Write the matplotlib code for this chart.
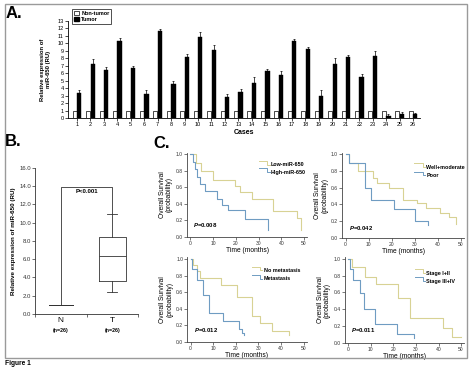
"""
Figure 1 rebuild: miR-650 expression (A, B) and survival curves (C).
Writes out.png at 474x371.
"""
import numpy as np
import matplotlib
matplotlib.use("Agg")
import matplotlib.pyplot as plt
from matplotlib.patches import Patch, Rectangle
from matplotlib.transforms import blended_transform_factory

plt.rcParams["font.family"] = ["Liberation Sans", "DejaVu Sans"]
plt.rcParams["mathtext.fontset"] = "custom"
plt.rcParams["mathtext.bfit"] = "Liberation Sans:bold:italic"

W, H = 474, 371

# --- A: per-case relative expression (RU)
cases = list(range(1, 27))
nontumor_expr = [1.0] * 26
tumor_expr = [3.4, 7.2, 6.5, 10.3, 6.7, 3.2, 11.6, 4.6, 8.2, 10.9, 9.1, 2.8, 3.5,
              4.75, 6.3, 5.7, 10.35, 9.25, 2.9, 7.2, 8.15, 5.55, 8.3, 0.3, 0.6, 0.5]
tumor_err = [0.4, 0.7, 0.3, 0.45, 0.3, 0.5, 0.35, 0.4, 0.4, 0.6, 0.7, 0.35, 0.4,
             0.8, 0.3, 0.6, 0.25, 0.3, 0.8, 0.8, 0.35, 0.4, 0.7, 0.2, 0.25, 0.2]

# --- B: box summary, N vs T
box_labels = ["N", "T"]
box_counts = ["(n=26)", "(n=26)"]
normal_box = dict(med=1.0, q1=1.0, q3=1.0, whislo=1.0, whishi=1.0)
tumor_box = dict(med=6.3, q1=3.6, q3=8.45, whislo=2.45, whishi=10.9)
bracket_level = 13.9
box_p = "P<0.001"

# --- C: Kaplan-Meier steps (months, survival probability)
low_t = [0, 2.5, 4.5, 10, 19.5, 22, 27, 36.5, 47, 48.5]
low_s = [1.0, 0.9, 0.8, 0.69, 0.62, 0.54, 0.46, 0.31, 0.23, 0.08]
high_t = [0, 1, 2, 3, 4, 6.5, 11.5, 14, 16.5, 24, 34]
high_s = [1.0, 0.91, 0.82, 0.73, 0.64, 0.56, 0.46, 0.39, 0.33, 0.22, 0.08]

wm_t = [0, 1.5, 5.5, 12, 13.5, 19, 25, 31, 35, 41, 45, 48]
wm_s = [1.0, 0.9, 0.8, 0.72, 0.65, 0.6, 0.45, 0.41, 0.35, 0.3, 0.25, 0.17]
poor_t = [0, 1.5, 8.5, 11, 21, 30, 35.5]
poor_s = [1.0, 0.9, 0.6, 0.45, 0.34, 0.2, 0.15]

nomet_t = [0, 1.2, 2.6, 4, 13.6, 20.7, 27, 30.5, 36, 43.7]
nomet_s = [1.0, 0.93, 0.85, 0.77, 0.68, 0.54, 0.31, 0.22, 0.13, 0.08]
met_t = [0, 0.7, 3, 5.3, 8, 14.4, 21.4, 22.9, 23.6]
met_s = [1.0, 0.88, 0.74, 0.57, 0.35, 0.25, 0.15, 0.11, 0.08]

early_t = [0, 1.8, 7.4, 12.5, 22, 27.2, 42, 46, 50]
early_s = [1.0, 0.9, 0.78, 0.7, 0.53, 0.3, 0.17, 0.07, 0.07]
late_t = [0, 0.7, 2.2, 5.1, 6.9, 11.8, 21.8, 29]
late_s = [1.0, 0.88, 0.75, 0.59, 0.4, 0.22, 0.1, 0.06]

km_labels = [("Low-miR-650", "High-miR-650"), ("Well+moderate", "Poor"),
             ("No metastasis", "Metastasis"), ("Stage I+II", "Stage III+IV")]
km_p = ["0.008", "0.042", "0.012", "0.011"]

YEL = "#d8d294"
BLU = "#6f9cc2"
AX_C = "#444444"


def rect(l, t, r, b):
    # pixel box -> figure fraction
    return [l / W, 1 - b / H, (r - l) / W, (b - t) / H]


def plain_axes(ax, color="black"):
    for s in ("top", "right"):
        ax.spines[s].set_visible(False)
    for s in ("left", "bottom"):
        ax.spines[s].set_linewidth(0.6)
        ax.spines[s].set_color(color)
    ax.tick_params(direction="out", length=2, width=0.5, pad=1, colors=color)


def step_key(ax, x0, y0, label, color):
    ax.plot([x0, x0 + 0.07, x0 + 0.07, x0 + 0.09], [y0, y0, y0 - 0.045, y0 - 0.045],
            transform=ax.transAxes, color=color, lw=0.7, clip_on=False)
    ax.text(x0 + 0.1, y0 - 0.045, label, transform=ax.transAxes, fontsize=3.9,
            fontweight="bold", va="center")


fig = plt.figure(figsize=(W / 100, H / 100), dpi=100)
fig.patches.append(Rectangle((5 / W, 1 - 358 / H), 462 / W, 354 / H, transform=fig.transFigure,
                             fill=False, edgecolor="#9a9a9a", lw=1.0))

# ---------------- A
ax = fig.add_axes(rect(68, 21, 420, 118))
x = np.array(cases)
ax.bar(x - 0.17, nontumor_expr, 0.3, color="white", edgecolor="black", lw=0.5)
ax.bar(x + 0.17, tumor_expr, 0.32, color="black", edgecolor="black", lw=0.3,
       yerr=[np.zeros(len(cases)), tumor_err],
       error_kw=dict(elinewidth=0.5, capsize=1.0, capthick=0.5, ecolor="black"))
ax.set_xlim(0.33, 26.52)
ax.set_ylim(0, 13)
ax.set_xticks(cases)
ax.set_yticks(range(0, 14))
plain_axes(ax)
ax.tick_params(labelsize=4)
ax.set_xlabel("Cases", fontsize=5, fontweight="bold", labelpad=1)
ax.set_ylabel("Relative expression of\nmiR-650 (RU)", fontsize=4.2, fontweight="bold",
              labelpad=5, linespacing=1.1)
leg = ax.legend(handles=[Patch(facecolor="white", edgecolor="black", lw=0.5, label="Non-tumor"),
                         Patch(facecolor="black", edgecolor="black", label="Tumor")],
                loc="upper left", bbox_to_anchor=(0.011, 1.12), fancybox=False,
                edgecolor="black", prop=dict(size=4, weight="bold"), borderpad=0.3,
                handlelength=1.0, handleheight=0.8, labelspacing=0.15, handletextpad=0.4,
                borderaxespad=0)
leg.get_frame().set_linewidth(0.6)

# ---------------- B
ax = fig.add_axes(rect(35, 167.7, 138, 314))
ax.bxp([normal_box, tumor_box], positions=[0.5, 1.5], widths=[0.47, 0.52],
       showfliers=False, capwidths=[0.47, 0.2],
       boxprops=dict(color="#333333", lw=0.6), whiskerprops=dict(color="#333333", lw=0.6),
       capprops=dict(color="#333333", lw=0.6), medianprops=dict(color="#333333", lw=0.6))
ax.plot([0.5, 0.5, 1.5, 1.5],
        [normal_box["whishi"], bracket_level, bracket_level, tumor_box["whishi"]],
        color="#333333", lw=0.6)
ax.text(1.0, bracket_level - 0.45, box_p, ha="center", va="center", fontsize=4.3,
        fontweight="bold")
ax.set_xlim(0, 2)
ax.set_ylim(0, 16)
ax.set_yticks(np.arange(0, 17, 2))
ax.set_yticklabels([f"{v:.1f}" for v in np.arange(0, 17, 2)])
ax.set_xticks([0, 1, 2])
ax.set_xticklabels([])
ax.set_xticks([0.5, 1.5], box_labels, minor=True)
plain_axes(ax, "#333333")
ax.tick_params(labelsize=4.3)
ax.tick_params(axis="x", which="minor", length=0, labelsize=6, pad=2)
tr = blended_transform_factory(ax.transData, ax.transAxes)
for pos, cnt in zip([0.5, 1.5], box_counts):
    ax.text(pos, -0.116, cnt, transform=tr, ha="center", va="center", fontsize=3.8,
            fontweight="bold")
ax.set_ylabel("Relative expression of miR-650 (RU)", fontsize=4.5, fontweight="bold",
              labelpad=2)

# ---------------- C
km_boxes = [rect(187, 152.6, 307, 237), rect(342.2, 152.6, 464, 237.7),
            rect(187.3, 257.3, 306.5, 341.7), rect(344.9, 257.3, 464, 342.7)]
km_curves = [(low_t, low_s, high_t, high_s), (wm_t, wm_s, poor_t, poor_s),
             (nomet_t, nomet_s, met_t, met_s), (early_t, early_s, late_t, late_s)]
key_pos = [(0.60, 0.90, 0.814), (0.59, 0.874, 0.776), (0.54, 0.889, 0.79), (0.585, 0.86, 0.766)]
p_pos = [(0.05, 0.14), (0.056, 0.114), (0.056, 0.139), (0.051, 0.149)]

for box, (t1, s1, t2, s2), labs, kp, pp, pv in zip(km_boxes, km_curves, km_labels,
                                                    key_pos, p_pos, km_p):
    ax = fig.add_axes(box)
    ax.step(t1, s1, where="post", color=YEL, lw=0.8)
    ax.step(t2, s2, where="post", color=BLU, lw=0.8)
    ax.set_xlim(-1.5, 51.3)
    ax.set_ylim(0, 1.02)
    ax.set_xticks(range(0, 51, 10))
    ax.set_yticks(np.arange(0, 1.01, 0.2))
    ax.set_yticklabels([f"{v:.1f}" for v in np.arange(0, 1.01, 0.2)])
    plain_axes(ax, AX_C)
    ax.tick_params(labelsize=3.6, labelcolor="#333333")
    ax.set_xlabel("Time (months)", fontsize=4.8, labelpad=0.5)
    ax.set_ylabel("Overall Survival\n(probability)", fontsize=4.8, labelpad=2,
                  linespacing=1.0)
    step_key(ax, kp[0], kp[1], labs[0], YEL)
    step_key(ax, kp[0], kp[2], labs[1], BLU)
    ax.text(pp[0], pp[1], r"$\mathbfit{P}$=" + pv, transform=ax.transAxes, fontsize=4.3,
            fontweight="bold", va="center")

# panel letters and caption
fig.text(6 / W, 1 - 18 / H, "A.", fontsize=12, fontweight="bold")
fig.text(5 / W, 1 - 146 / H, "B.", fontsize=12, fontweight="bold")
fig.text(153 / W, 1 - 148 / H, "C.", fontsize=12, fontweight="bold")
fig.text(5 / W, 1 - 365 / H, "Figure 1", fontsize=4.8, fontweight="bold")

fig.savefig("out.png", dpi=100)
